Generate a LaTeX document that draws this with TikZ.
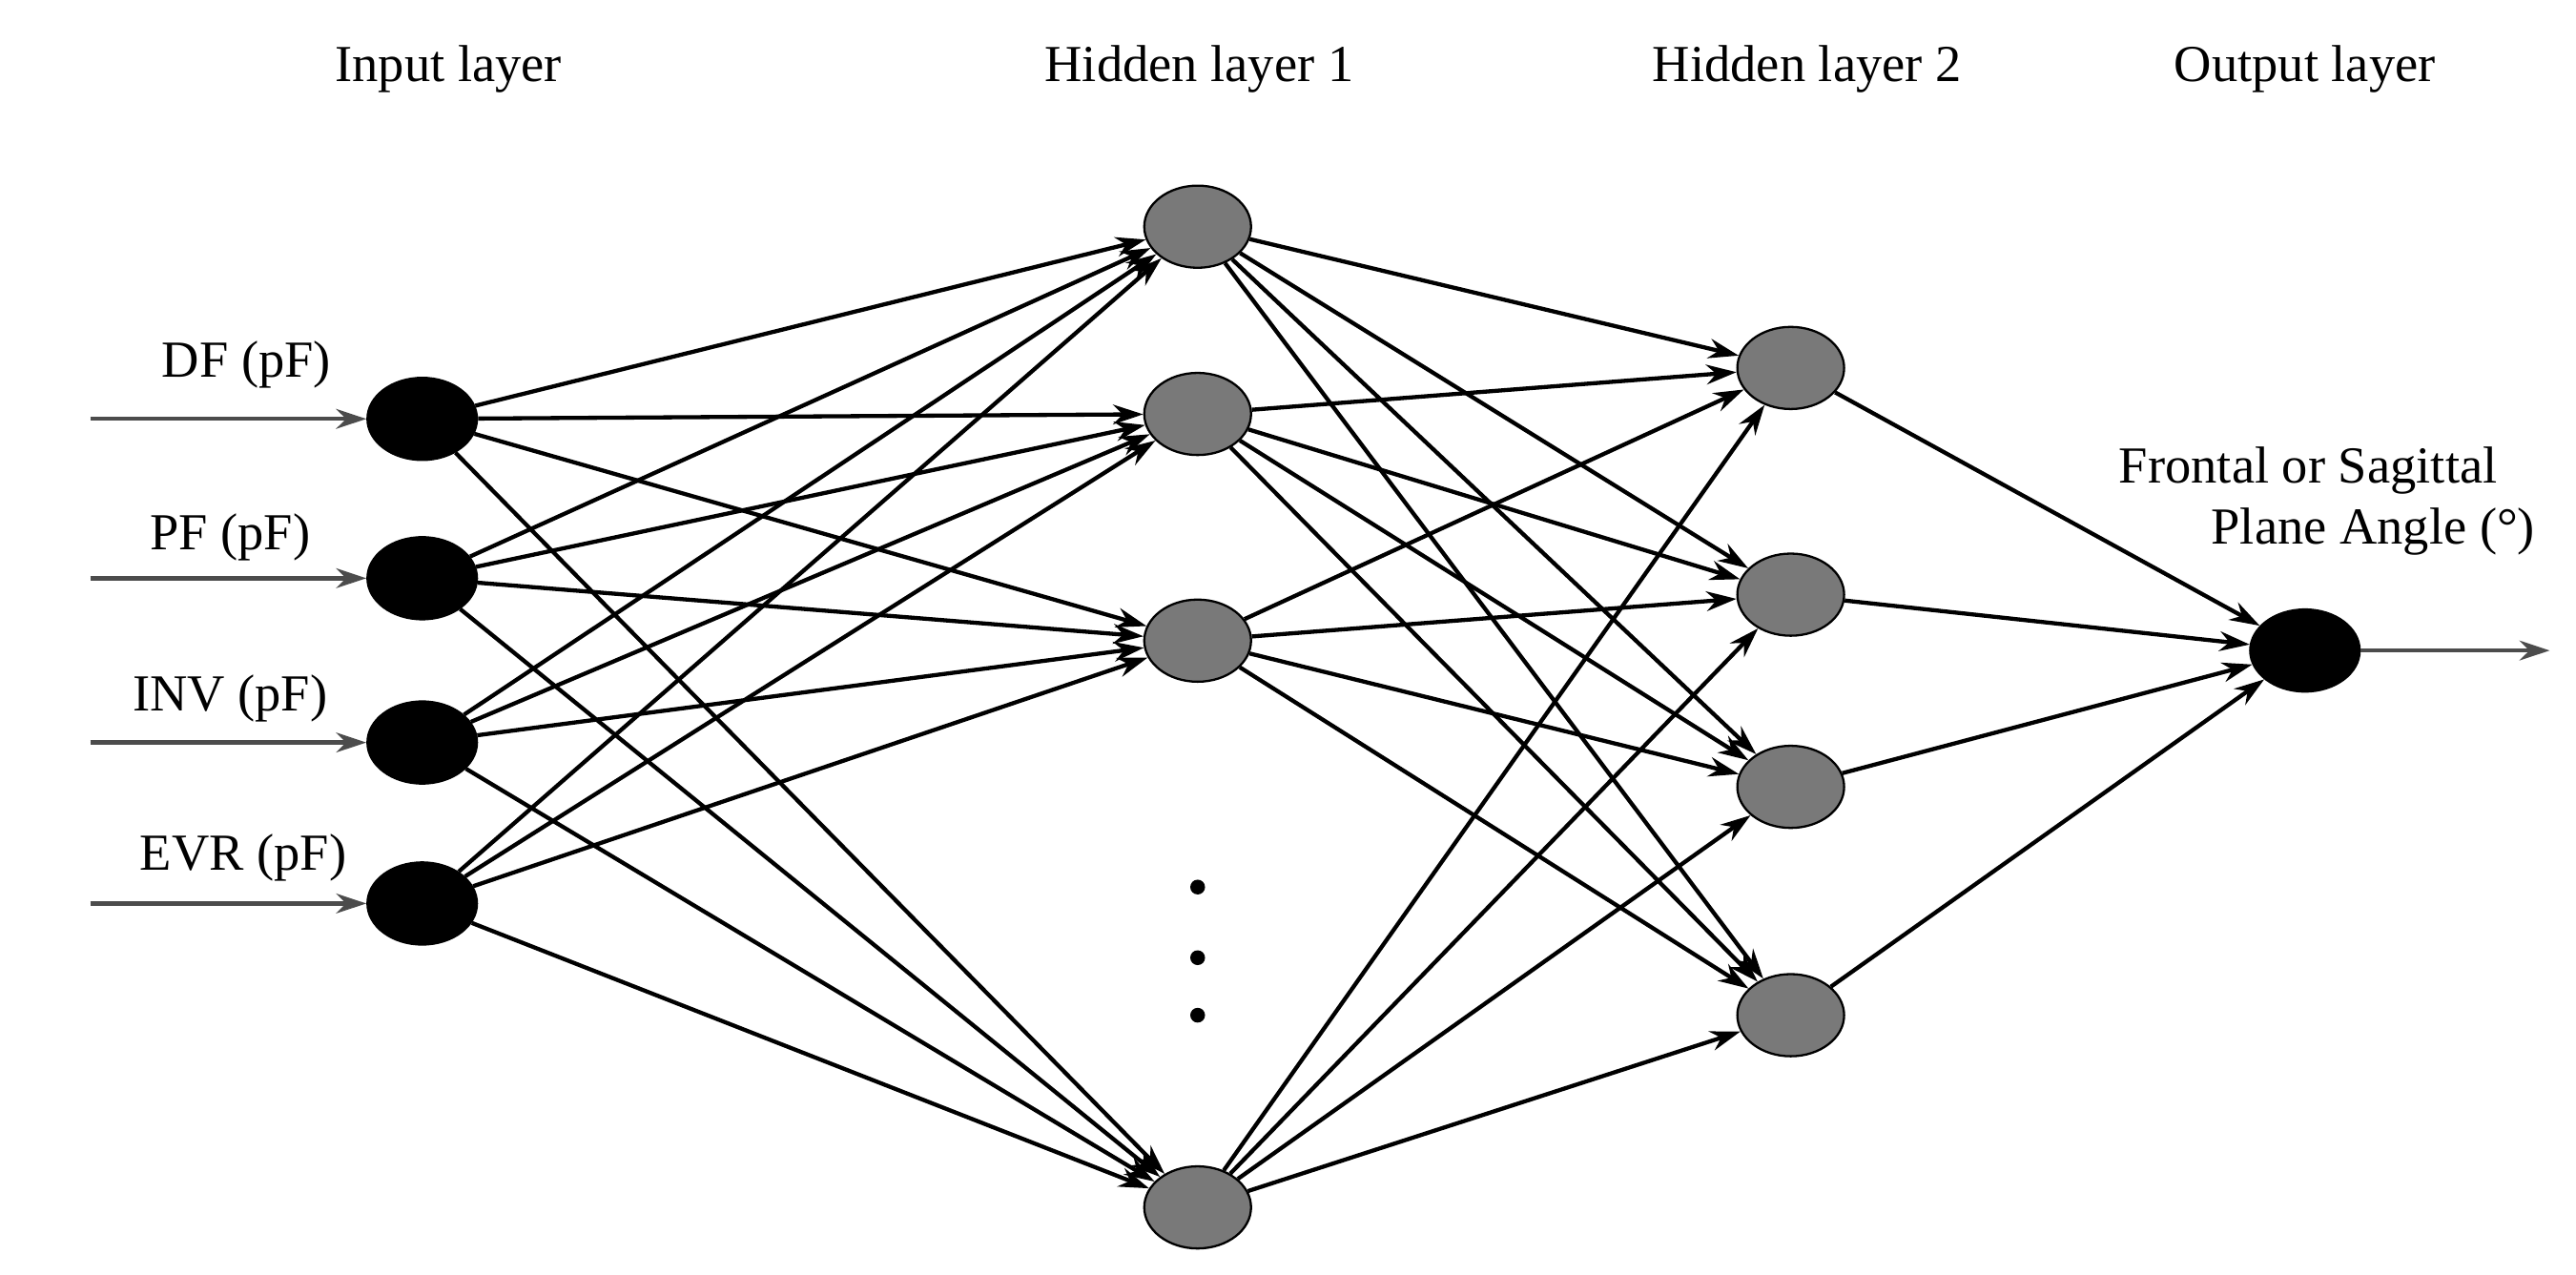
\documentclass[tikz,border=0pt]{standalone}
\usepackage{fontspec}
\setmainfont{Liberation Serif}
\usetikzlibrary{arrows.meta,shapes.geometric}
\begin{document}
\begin{tikzpicture}[x=0.3mm,y=-0.3mm,
  neuron/.style={ellipse,draw=black,line width=0.4mm,minimum width=20mm,minimum height=15mm,inner sep=0pt},
  inn/.style={neuron,fill=black},
  hid/.style={neuron,fill=gray!95!black,minimum width=19.5mm},
  con/.style={line width=0.75mm,-{Stealth[length=5.5mm,width=3.6mm]}},
  lab/.style={font=\fontsize{27}{32}\selectfont}]
\useasboundingbox (0,0) rectangle (1568,776);
\node[lab] at (273,42) {Input layer};
\node[lab] at (730,42) {Hidden layer 1};
\node[lab] at (1100,42) {Hidden layer 2};
\node[lab] at (1403,42) {Output layer};
\foreach \i/\y in {1/255,2/352,3/452,4/550} \node[inn] (i\i) at (257,\y) {};
\foreach \i/\y in {1/138,2/252,3/390,4/735} \node[hid] (a\i) at (729,\y) {};
\foreach \i/\y in {1/224,2/362,3/479,4/618} \node[hid] (b\i) at (1090,\y) {};
\node[inn] (o) at (1403,396) {};
\foreach \i/\y/\ly/\lx/\t in {1/255/222/150/DF (pF),2/352/327/140/PF (pF),3/452/425/140/INV (pF),4/550/522/148/EVR (pF)}{
  \coordinate (s\i) at (55,\y);
  \node[lab] at (\lx,\ly) {\t};
  \draw[con,draw=black!70,fill=black!70] (s\i) -- (i\i);}
\foreach \i in {1,...,4} \foreach \j in {1,...,4} \draw[con] (i\i) -- (a\j);
\foreach \i in {1,...,4} \foreach \j in {1,...,4} \draw[con] (a\i) -- (b\j);
\foreach \j in {1,...,4} \draw[con] (b\j) -- (o);
\coordinate (e) at (1552,396);
\draw[con,draw=black!70] (o) -- (e);
\node[lab,align=center] at (1405,305) {Frontal or Sagittal\\\hspace*{2.5em}Plane Angle (°)};
\foreach \y in {540,583,618} \fill (729,\y) circle (4.5);
\end{tikzpicture}
\end{document}
